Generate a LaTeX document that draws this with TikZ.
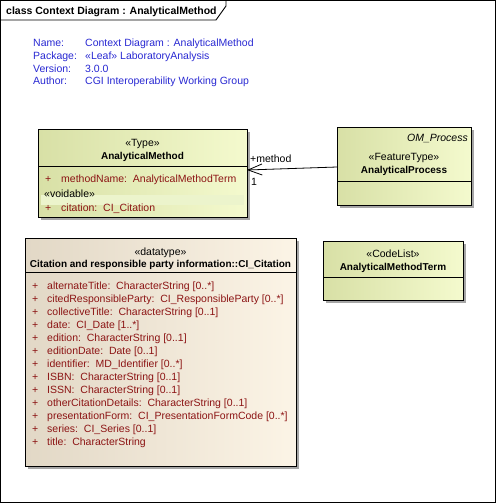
\documentclass[tikz,border=0pt]{standalone}
\usepackage{fontspec}
\setmainfont{Liberation Sans}
\usetikzlibrary{arrows.meta,shadows}
\definecolor{greenL}{RGB}{216,224,166}
\definecolor{greenR}{RGB}{244,250,206}
\definecolor{beigeL}{RGB}{226,216,198}
\definecolor{beigeR}{RGB}{252,244,230}
\definecolor{attrred}{RGB}{140,20,20}
\definecolor{infoblue}{RGB}{40,40,210}
\definecolor{bandgreen}{RGB}{236,244,204}
\tikzset{
  umlbox/.style={draw=black, line width=0.9pt, rectangle, inner sep=0pt,
    drop shadow={shadow xshift=3pt, shadow yshift=-3pt, fill=black!35, opacity=1}},
  greenbox/.style={umlbox, left color=greenL, right color=greenR},
  beigebox/.style={umlbox, left color=beigeL, right color=beigeR},
  txt/.style={inner sep=0pt, anchor=base west},
  ctxt/.style={inner sep=0pt, anchor=base},
  bname/.style={ctxt, font=\fontsize{10}{12}\selectfont\bfseries},
  attr/.style={txt, text=attrred},
  info/.style={txt, text=infoblue},
  divider/.style={draw=black, line width=0.9pt},
}
\begin{document}
\begin{tikzpicture}[x=1pt,y=-1pt,font=\fontsize{10.5}{12}\selectfont]
\useasboundingbox (0,0) rectangle (497,504);
% frame
\draw[line width=0.9pt] (0.5,0.5) rectangle (495.5,502.5);
\draw[line width=0.9pt] (0.5,20) -- (216,20) -- (226,6) -- (226,0.5);
\node[txt,font=\fontsize{10.5}{12}\selectfont\bfseries] (title) at (6,14) {class Context Diagram : AnalyticalMethod};
% info
\node[info] (n1) at (33,46) {Name:};
\node[info] (n2) at (33,59) {Package:};
\node[info] (n3) at (33,72) {Version:};
\node[info] (n4) at (33,84) {Author:};
\node[info] (v1) at (85,46) {Context Diagram : AnalyticalMethod};
\node[info] (v2) at (85,59) {«Leaf» LaboratoryAnalysis};
\node[info] (v3) at (85,72) {3.0.0};
\node[info] (v4) at (85,84) {CGI Interoperability Working Group};

% AnalyticalMethod
\node[greenbox, anchor=north west, minimum width=209pt, minimum height=88pt] (am) at (38,129) {};
\draw[divider] (38,166) -- (247,166);
\fill[bandgreen] (41,195) rectangle (244,205);
\node[ctxt] (amst) at (142.5,146) {«Type»};
\node[bname] (amname) at (142.5,159) {AnalyticalMethod};
\node[attr] (amp1) at (45,182) {+};
\node[attr] (ama1) at (61,182) {methodName:\ \ AnalyticalMethodTerm};
\node[txt] (amvoid) at (44,197) {«voidable»};
\node[attr] (amp2) at (45,211) {+};
\node[attr] (ama2) at (61,211) {citation:\ \ CI\_Citation};

% AnalyticalProcess
\node[greenbox, anchor=north west, minimum width=134pt, minimum height=78pt] (ap) at (337,127) {};
\draw[divider] (337,181) -- (471,181);
\node[inner sep=0pt, anchor=base east, font=\fontsize{10.5}{12}\selectfont\itshape] (apom) at (468,141) {OM\_Process};
\node[ctxt] (apst) at (404,160) {«FeatureType»};
\node[bname] (apname) at (404,173) {AnalyticalProcess};

% connector
\coordinate (apL) at (337,167);
\coordinate (amR) at (247,170);
\draw[line width=0.8pt, -{Straight Barb[length=14pt,width=11pt,line width=0.8pt]}] (apL) -- (amR);
\node[txt] (lmethod) at (250,162) {+method};
\node[txt] (lone) at (251,185) {1};

% CI_Citation
\node[beigebox, anchor=north west, minimum width=271pt, minimum height=228pt] (ci) at (25,238) {};
\draw[divider] (25,272) -- (296,272);
\node[ctxt] (cist) at (160.5,255) {«datatype»};
\node[bname] (ciname) at (160.5,267) {Citation and responsible party information::CI\_Citation};
\foreach \t [count=\i from 0] in {
  alternateTitle:\ \ CharacterString [0..*],
  citedResponsibleParty:\ \ CI\_ResponsibleParty [0..*],
  collectiveTitle:\ \ CharacterString [0..1],
  date:\ \ CI\_Date [1..*],
  edition:\ \ CharacterString [0..1],
  editionDate:\ \ Date [0..1],
  identifier:\ \ MD\_Identifier [0..*],
  ISBN:\ \ CharacterString [0..1],
  ISSN:\ \ CharacterString [0..1],
  otherCitationDetails:\ \ CharacterString [0..1],
  presentationForm:\ \ CI\_PresentationFormCode [0..*],
  series:\ \ CI\_Series [0..1],
  title:\ \ CharacterString}
{
  \node[attr] (cip\i) at (32,289+13*\i) {+};
  \node[attr] (cia\i) at (47,289+13*\i) {\t};
}

% CodeList
\node[greenbox, anchor=north west, minimum width=140pt, minimum height=59pt] (cl) at (323,241) {};
\draw[divider] (323,277) -- (463,277);
\node[ctxt] (clst) at (393,257) {«CodeList»};
\node[bname] (clname) at (393,270) {AnalyticalMethodTerm};
\end{tikzpicture}
\end{document}
